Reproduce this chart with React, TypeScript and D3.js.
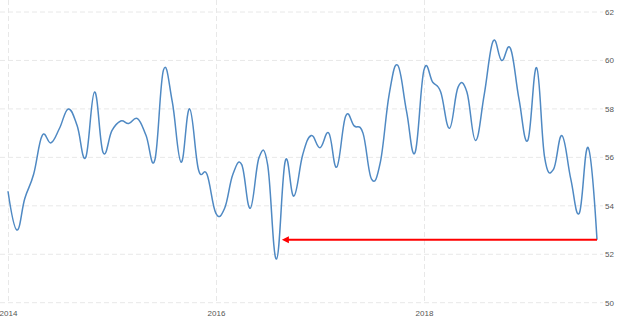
import React from "react";
import * as d3 from "d3";

const START_YEAR = 2014;
const values: number[] = [
  54.6, 53.0, 54.3, 55.3, 56.9, 56.6, 57.2, 58.0, 57.3, 56.0, 58.7, 56.2,
  57.1, 57.5, 57.4, 57.6, 56.9, 55.9, 59.6, 58.3, 55.8, 58.0, 55.5, 55.3,
  53.7, 53.9, 55.3, 55.7, 53.9, 56.0, 55.7, 51.8, 55.85, 54.4, 56.1, 56.9,
  56.4, 57.0, 55.6, 57.7, 57.3, 57.0, 55.1, 55.8, 58.6, 59.8, 57.9, 56.2,
  59.6, 59.1, 58.7, 57.2, 58.9, 58.7, 56.7, 58.6, 60.8, 60.0, 60.5, 58.4,
  56.7, 59.7, 56.0, 55.5, 56.9, 55.1, 53.7, 56.4, 52.6,
];
const dates: Date[] = values.map((_, i) => new Date(START_YEAR, i, 1));
const yTicks: number[] = [50, 52, 54, 56, 58, 60, 62];
const xTickYears: number[] = [2014, 2016, 2018];
const arrowEndDate = new Date(2016, 7, 20);

const W = 624;
const H = 326;

export default function App() {
  const x = d3
    .scaleTime()
    .domain([new Date(2014, 0, 1), new Date(2019, 8, 1)])
    .range([8, 597]);
  const y = d3.scaleLinear().domain([50, 62]).range([302.7, 12]);

  const line = d3
    .line<number>()
    .x((_, i) => x(dates[i]))
    .y((d) => y(d))
    .curve(d3.curveCardinal.tension(-0.2));

  const lastVal = values[values.length - 1];
  const lastX = x(dates[dates.length - 1]);
  const arrowY = y(lastVal);
  const tipX = x(arrowEndDate);

  return (
    <svg
      width={W}
      height={H}
      style={{ position: "absolute", left: 0, top: 0, background: "#fff" }}
      fontFamily="'Liberation Sans', Arial, sans-serif"
    >
      {yTicks.map((t) => (
        <g key={"y" + t}>
          <line
            x1={0}
            x2={603}
            y1={y(t)}
            y2={y(t)}
            stroke="#e8e8e8"
            strokeWidth={1}
            strokeDasharray="5,3"
          />
          <text x={605} y={y(t) + 3} fontSize={8} fill="#555">
            {t}
          </text>
        </g>
      ))}
      {xTickYears.map((yr) => {
        const xx = Math.round(x(new Date(yr, 0, 1))) + 0.5;
        return (
          <g key={"x" + yr}>
            <line
              x1={xx}
              x2={xx}
              y1={0}
              y2={303}
              stroke="#e8e8e8"
              strokeWidth={1}
              strokeDasharray="5,3"
            />
            <text x={xx} y={316} fontSize={8} fill="#555" textAnchor="middle">
              {yr}
            </text>
          </g>
        );
      })}
      <path
        d={line(values) || ""}
        fill="none"
        stroke="#4f89c3"
        strokeWidth={1.5}
      />
      <line
        x1={lastX}
        x2={tipX + 5}
        y1={arrowY}
        y2={arrowY}
        stroke="#f00"
        strokeWidth={2}
      />
      <path
        d={`M${tipX},${arrowY} L${tipX + 7},${arrowY - 3.5} L${tipX + 7},${arrowY + 3.5} Z`}
        fill="#f00"
      />
    </svg>
  );
}
